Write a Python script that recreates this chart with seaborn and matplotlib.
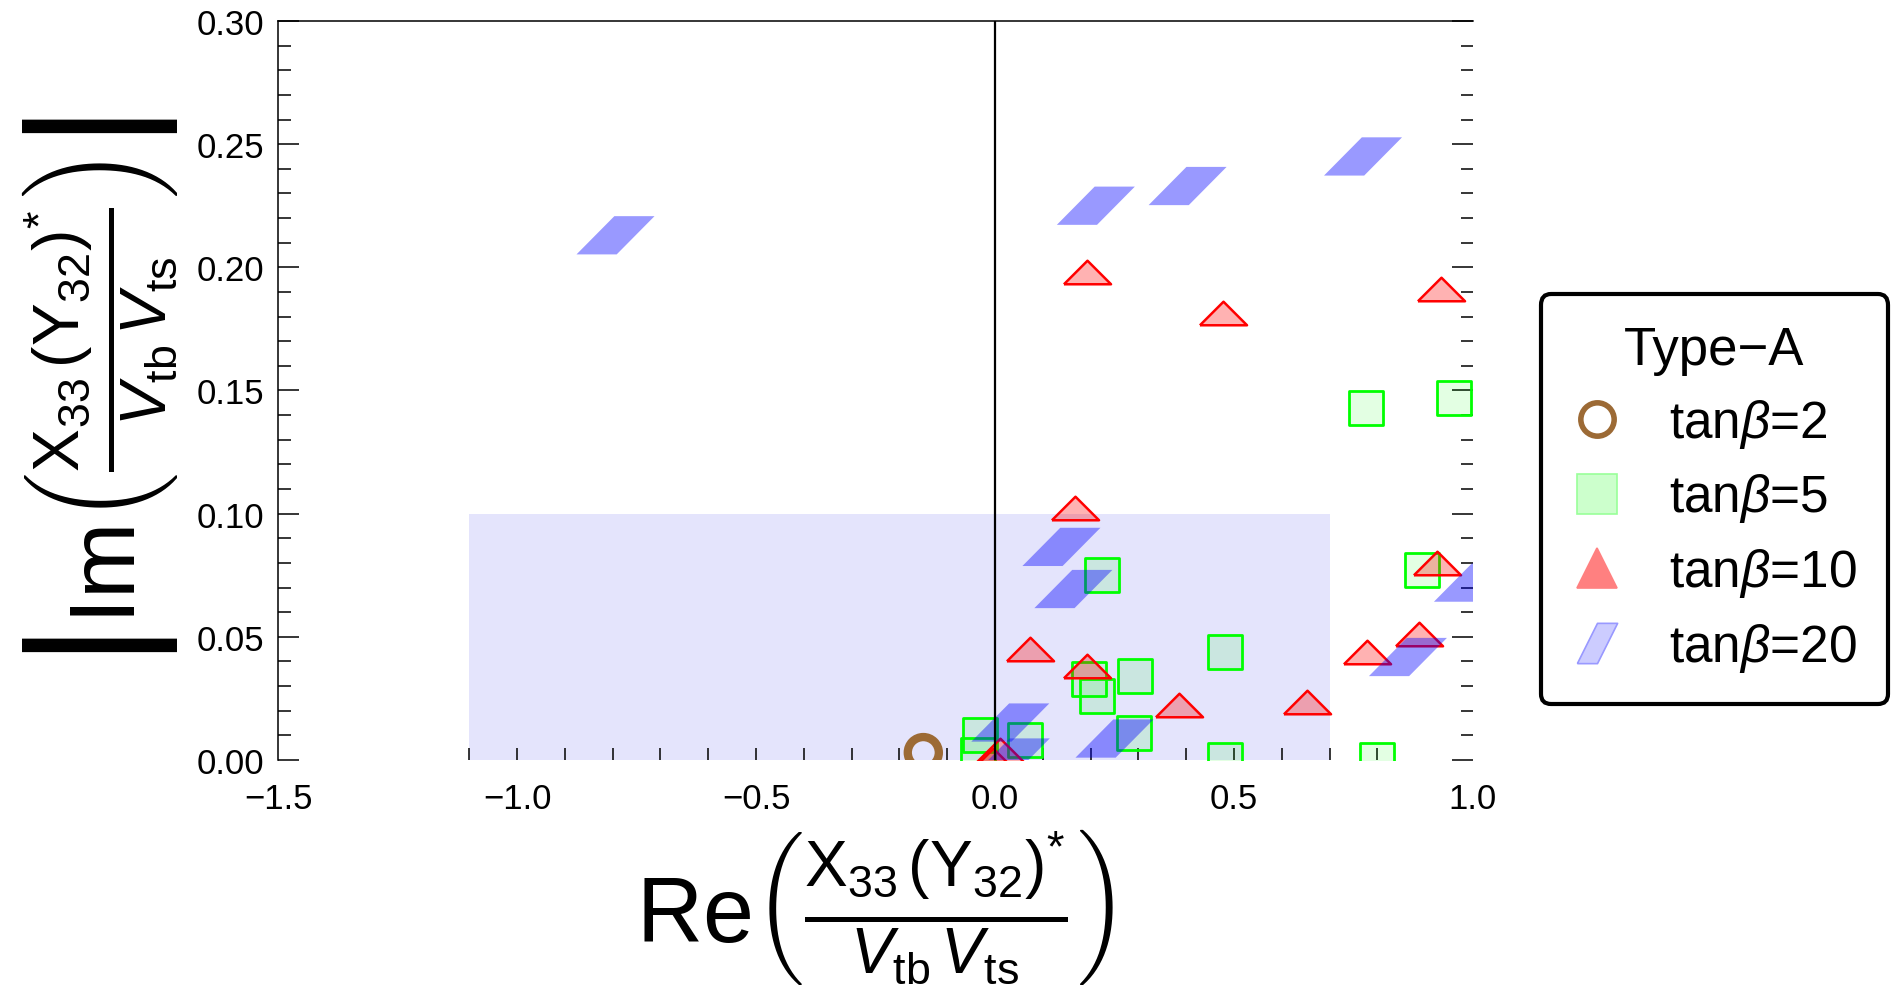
import numpy as np
import pandas as pd
import matplotlib
matplotlib.use('Agg')
import matplotlib.pyplot as plt
from matplotlib.lines import Line2D
from matplotlib.ticker import FixedLocator, MultipleLocator, FuncFormatter
import seaborn as sns

# values -----------------------------------------------------------------------
tb2_x = [-0.150]
tb2_y = [0.003]

tb5_x = [0.776, 0.960, 0.224, 0.197, 0.213, 0.293, 0.481, 0.291, 0.481, 0.800, 0.893, -0.031, -0.036, 0.063]
tb5_y = [0.143, 0.147, 0.075, 0.033, 0.026, 0.034, 0.044, 0.011, 0.000, 0.000, 0.077, 0.010, 0.002, 0.008]

tb10_x = [0.192, 0.477, 0.933, 0.167, 0.073, 0.193, 0.385, 0.653, 0.778, 0.887, 0.925, 0.010, -0.005]
tb10_y = [0.198, 0.1815, 0.191, 0.1023, 0.045, 0.038, 0.0223, 0.0235, 0.0438, 0.051, 0.080, 0.004, 0.000]

tb20_x = [-0.794, 0.211, 0.403, 0.770, 0.139, 0.164, 0.864, 1.000, 0.250, 0.032, 0.033]
tb20_y = [0.213, 0.225, 0.233, 0.245, 0.0865, 0.0694, 0.0418, 0.072, 0.0087, 0.0152, 0.001]

shade_x = [-1.1, 0.7]      # allowed band in Re
shade_top = 0.10          # allowed band in |Im|

legend_labels = ['tan$\\beta$=2', 'tan$\\beta$=5', 'tan$\\beta$=10', 'tan$\\beta$=20']

# style ------------------------------------------------------------------------
sns.set_style('white')
plt.rcParams['font.family'] = ['Liberation Sans', 'DejaVu Sans']
plt.rcParams['mathtext.fontset'] = 'custom'
plt.rcParams['mathtext.rm'] = 'Liberation Sans'
plt.rcParams['mathtext.it'] = 'Liberation Sans:italic'
plt.rcParams['mathtext.bf'] = 'Liberation Sans:bold'
plt.rcParams['axes.unicode_minus'] = True
for key in ['text.color', 'axes.labelcolor', 'xtick.color', 'ytick.color']:
    plt.rcParams[key] = 'black'

tri = [(-1, -0.5), (1, -0.5), (0, 0.5), (-1, -0.5)]
para = [(-1, -0.49), (0.03, -0.49), (1, 0.49), (-0.03, 0.49), (-1, -0.49)]
para_leg = [(-1, -1), (0, -1), (1, 1), (0, 1), (-1, -1)]

fig = plt.figure(figsize=(18.93, 10.03), dpi=100)
ax = fig.add_axes([0.1469, 0.2413, 0.6312, 0.7368])

ax.fill_between(shade_x, 0, shade_top, color='#e4e4fc', lw=0, zorder=0)

sns.scatterplot(x=tb2_x, y=tb2_y, ax=ax, marker='o', s=500, color='none',
                edgecolor='#9c6a35', linewidth=6, zorder=2)
sns.scatterplot(x=tb5_x, y=tb5_y, ax=ax, marker='s', s=620, color=(0, 1, 0, 0.11),
                edgecolor='#00ff00', linewidth=2, zorder=3)
sns.scatterplot(x=tb10_x, y=tb10_y, ax=ax, marker=tri, s=1150, color=(1, 0, 0, 0.3),
                edgecolor='#ff0000', linewidth=1.8, zorder=4)
sns.scatterplot(x=tb20_x, y=tb20_y, ax=ax, marker=para, s=3158, color=(0, 0, 1, 0.4),
                edgecolor='none', linewidth=0, zorder=5)

ax.axvline(0, color='black', lw=1.6, zorder=6)

ax.set_xlim(-1.5, 1.0)
ax.set_ylim(0, 0.30)

for side in ['bottom', 'right']:
    ax.spines[side].set_visible(False)
for side in ['left', 'top']:
    ax.spines[side].set_visible(True)
    ax.spines[side].set_color('black')
    ax.spines[side].set_linewidth(1.1)

# x ticks: labels at 0.5 steps, short marks only where drawn in the reference
ax.set_xticks([-1.5, -1.0, -0.5, 0.0, 0.5, 1.0])
ax.xaxis.set_minor_locator(FixedLocator(np.round(np.arange(-1.1, 0.81, 0.1), 2)))
ax.xaxis.remove_overlapping_locs = False
ax.xaxis.set_major_formatter(FuncFormatter(lambda v, p: f'{v:.1f}'.replace('-', '\u2212')))
ax.tick_params(axis='x', which='major', length=0, pad=16, labelsize=25, bottom=True, top=False)
ax.tick_params(axis='x', which='minor', direction='in', length=9, width=1.1, bottom=True, top=False)

ax.yaxis.set_major_locator(MultipleLocator(0.05))
ax.yaxis.set_minor_locator(MultipleLocator(0.01))
ax.yaxis.set_major_formatter(FuncFormatter(lambda v, p: f'{v:.2f}'))
ax.tick_params(axis='y', which='major', direction='in', length=15, width=1.1,
               left=True, right=True, labelsize=25, pad=10)
ax.tick_params(axis='y', which='minor', direction='in', length=9, width=1.1,
               left=True, right=True)

frac = r'\frac{\mathrm{X}_{33}\,(\mathrm{Y}_{32})^{*}}{V_{\mathrm{tb}}\,V_{\mathrm{ts}}}'
ax.set_xlabel(r'$\mathrm{Re}\left(' + frac + r'\right)$', fontsize=66, labelpad=8)
ax.set_ylabel(r'$\left|\mathrm{Im}\left(' + frac + r'\right)\right|$', fontsize=66, labelpad=12)

handles = [
    Line2D([], [], marker='o', ls='none', markersize=24, markerfacecolor='none',
           markeredgecolor='#9c6a35', markeredgewidth=4),
    Line2D([], [], marker='s', ls='none', markersize=29, markerfacecolor='#ccffcc',
           markeredgecolor='#99ff99', markeredgewidth=1.2),
    Line2D([], [], marker='^', ls='none', markersize=29, markerfacecolor='#ff8080',
           markeredgecolor='#ff8080', markeredgewidth=1.2),
    Line2D([], [], marker=para_leg, ls='none', markersize=29, markerfacecolor='#ccccff',
           markeredgecolor='#9999ff', markeredgewidth=1.2),
]
leg = fig.legend(handles, legend_labels, title='Type\u2212A', loc='center',
                 bbox_to_anchor=(0.9057, 0.501), fontsize=37, title_fontsize=38,
                 frameon=True, fancybox=True, edgecolor='black', framealpha=1,
                 borderpad=0.6, labelspacing=0.42, handlelength=1.0, handletextpad=0.9)
leg.get_frame().set_linewidth(3)

fig.savefig('out.png', dpi=100)
